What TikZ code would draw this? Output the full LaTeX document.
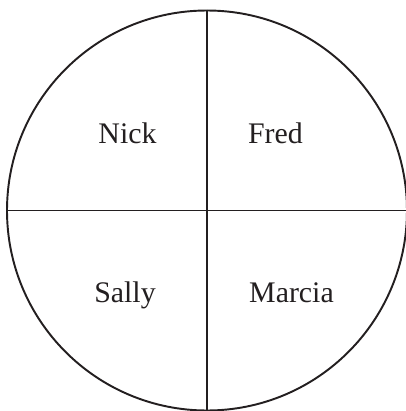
\documentclass[tikz,border=0pt]{standalone}
\usepackage{fontspec}
\setmainfont{Liberation Serif}
\usepackage{tikz}

\definecolor{ink}{RGB}{35,31,32}
\tikzset{
  person/.style={anchor=base, text=ink, font=\fontsize{17}{20}\selectfont},
  divider/.style={draw=ink, line width=1.1pt},
}

\begin{document}
\begin{tikzpicture}
  \useasboundingbox (-4.14,-4.01) rectangle (3.98,4.21);
  \node[circle, draw=ink, line width=1.1pt, inner sep=0pt, minimum size=8cm] (pie) at (0,0) {};
  \node[person] (nick) at (-1.59, 1.35) {Nick};
  \node[person] (fred) at (1.37, 1.35) {Fred};
  \node[person] (sally) at (-1.64, -1.83) {Sally};
  \node[person] (marcia) at (1.69, -1.83) {Marcia};
  \draw[divider] (pie.north) -- (pie.south);
  \draw[divider] (pie.west) -- (pie.east);
\end{tikzpicture}
\end{document}
